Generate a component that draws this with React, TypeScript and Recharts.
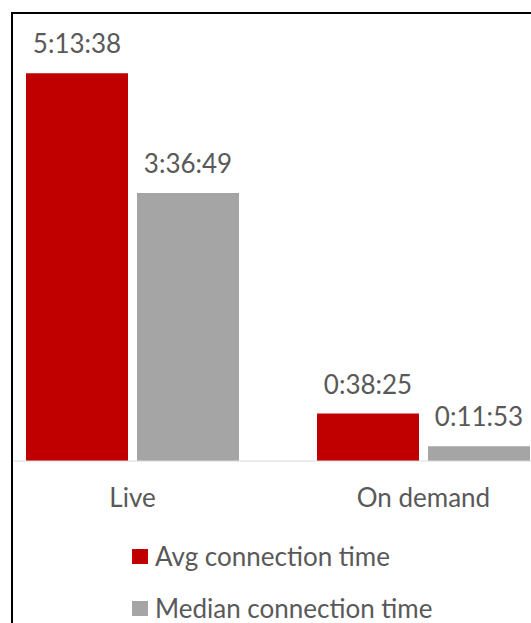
import { BarChart, Bar, XAxis, YAxis, Legend, LabelList } from "recharts";

const categories = ["Live", "On demand"];
const avgSeconds = [18818, 2305]; // 5:13:38, 0:38:25
const medianSeconds = [13009, 713]; // 3:36:49, 0:11:53

const RED = "#C00000";
const GRAY = "#A5A5A5";
const TEXT = "#595959";
const FONT = "Lato, 'Open Sans', sans-serif";
const FS = 26;

const data = categories.map((name, i) => ({
  name,
  avg: avgSeconds[i],
  median: medianSeconds[i],
}));

const pad = (n: number) => String(n).padStart(2, "0");
const fmt = (v: unknown) => {
  const s = Number(v);
  const h = Math.floor(s / 3600);
  const m = Math.floor((s % 3600) / 60);
  return `${h}:${pad(m)}:${pad(s % 60)}`;
};

function LegendRows({ payload }: { payload?: { value: string; color: string }[] }) {
  return (
    <div style={{ fontFamily: FONT, fontSize: FS, color: TEXT }}>
      {(payload || []).map((p) => (
        <div key={p.value} style={{ height: 52, display: "flex", alignItems: "center", whiteSpace: "nowrap" }}>
          <span style={{ display: "inline-block", width: 16, height: 15, background: p.color, marginRight: 7 }} />
          {p.value}
        </div>
      ))}
    </div>
  );
}

export default function App() {
  return (
    <div style={{ position: "fixed", left: 0, top: 0, width: 531, height: 623, overflow: "hidden", background: "#fff" }}>
      <div
        style={{
          position: "absolute",
          left: 11,
          top: 12,
          width: 600,
          height: 700,
          borderLeft: "2px solid #000",
          borderTop: "2px solid #000",
          overflow: "hidden",
        }}
      >
        <BarChart
          width={582}
          height={623}
          data={data}
          margin={{ top: 16, right: 0, left: 0, bottom: 0 }}
          barSize={102}
          barGap={9}
          style={{ position: "absolute", left: -26, top: -14 }}
        >
          <XAxis
            dataKey="name"
            height={162}
            stroke="#D9D9D9"
            tickLine={false}
            tickSize={0}
            tickMargin={28}
            tick={{ fill: TEXT, fontSize: FS, fontFamily: FONT }}
            interval={0}
          />
          <YAxis hide domain={[0, 21600]} />
          <Legend
            layout="vertical"
            align="center"
            verticalAlign="middle"
            wrapperStyle={{ left: 145, top: 530, width: "auto" }}
            content={<LegendRows />}
          />
          <Bar dataKey="avg" name="Avg connection time" fill={RED} isAnimationActive={false}>
            <LabelList dataKey="avg" position="top" offset={20} formatter={fmt} fill={TEXT} fontSize={FS} fontFamily={FONT} />
          </Bar>
          <Bar dataKey="median" name="Median connection time" fill={GRAY} isAnimationActive={false}>
            <LabelList dataKey="median" position="top" offset={20} formatter={fmt} fill={TEXT} fontSize={FS} fontFamily={FONT} />
          </Bar>
        </BarChart>
      </div>
    </div>
  );
}
